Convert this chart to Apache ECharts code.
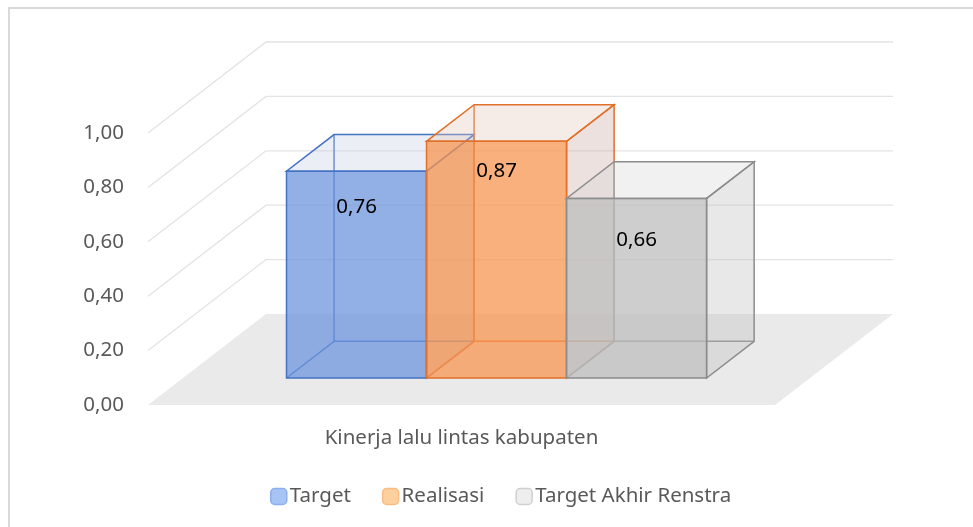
<!DOCTYPE html>
<html>
<head>
<meta charset="utf-8">
<script src="https://cdn.jsdelivr.net/npm/echarts@6/dist/echarts.min.js"></script>
<style>
  html, body { margin: 0; padding: 0; background: #fff; }
  #chart { width: 973px; height: 527px; }
</style>
</head>
<body>
<div id="chart"></div>
<script>
// data
const categories = ['Kinerja lalu lintas kabupaten']
const seriesNames = ['Target', 'Realisasi', 'Target Akhir Renstra']
const target = [0.76]
const realisasi = [0.87]
const renstra = [0.66]
const yTicks = [0, 0.2, 0.4, 0.6, 0.8, 1.0]

// oblique "3d" look: depth offset in px, bar front/back depth as fraction of it
const DX = 118
const DY = -91
const D0 = 0.297
const D1 = 0.70
const GROUP = 0.67
const FONT = 'Noto Sans'

const styles = [
  { edge: '#4472c4', front: 'rgba(110,150,220,0.75)', top: 'rgba(200,205,225,0.35)', side: 'rgba(170,180,210,0.35)',
    icon: '#a7c4f5', iconBorder: '#8db0ea' },
  { edge: '#e0702a', front: 'rgba(247,150,80,0.75)', top: 'rgba(225,200,185,0.35)', side: 'rgba(200,170,160,0.35)',
    icon: '#fdd09e', iconBorder: '#f8bd86' },
  { edge: '#8c8c8c', front: 'rgba(190,190,190,0.75)', top: 'rgba(215,215,215,0.35)', side: 'rgba(190,190,190,0.35)',
    icon: '#eeeeee', iconBorder: '#d0d0d0' }
]

function fmt(v) {
  return v.toFixed(2).replace('.', ',')
}

function wallsItem(params, api) {
  const v = api.value(0)
  const p = api.coord([0, v])
  const band = api.size([1, 0])[0]
  const l = p[0] - band / 2
  const r = p[0] + band / 2
  const y = p[1]
  if (v === 0) {
    return {
      type: 'polygon',
      shape: { points: [[l, y], [r, y], [r + DX, y + DY], [l + DX, y + DY]] },
      style: { fill: '#eaeaea' },
      z2: 0
    }
  }
  return {
    type: 'polyline',
    shape: { points: [[l, y], [l + DX, y + DY], [r + DX, y + DY]] },
    style: { stroke: '#e3e3e3', lineWidth: 1.3, fill: null },
    z2: 1
  }
}

function makeBar(idx, values) {
  const st = styles[idx]
  return {
    name: seriesNames[idx],
    type: 'custom',
    z: 2 + idx,
    itemStyle: { color: st.icon },
    encode: { x: 0, y: 1 },
    data: values.map((v, i) => [i, v]),
    renderItem: function (params, api) {
      const ci = api.value(0)
      const v = api.value(1)
      const base = api.coord([ci, 0])
      const yTop = api.coord([ci, v])[1]
      const band = api.size([1, 0])[0]
      const unit = api.size([0, 1])[1]
      const groupW = band * GROUP
      const barW = groupW / 3
      const x1 = base[0] - groupW / 2 + idx * barW + DX * D0
      const x2 = x1 + barW
      const yb = base[1] + DY * D0
      const yt = yTop + DY * D0
      const bx = DX * (D1 - D0)
      const by = DY * (D1 - D0)
      const line = { stroke: st.edge, lineWidth: 1.5 }
      // label sits a bit lower the shorter the bar is
      const labelY = yt + 22.6 + 0.21 * unit * (1 - v)
      return {
        type: 'group',
        children: [
          { type: 'line', shape: { x1: x1 + bx, y1: yb + by, x2: x1 + bx, y2: yt + by }, style: line },
          { type: 'line', shape: { x1: x1 + bx, y1: yb + by, x2: x2 + bx, y2: yb + by }, style: line },
          { type: 'line', shape: { x1: x1, y1: yb, x2: x1 + bx, y2: yb + by }, style: line },
          {
            type: 'polygon',
            shape: { points: [[x2, yt], [x2, yb], [x2 + bx, yb + by], [x2 + bx, yt + by]] },
            style: { fill: st.side, stroke: st.edge, lineWidth: 1.5 }
          },
          {
            type: 'polygon',
            shape: { points: [[x1, yt], [x2, yt], [x2 + bx, yt + by], [x1 + bx, yt + by]] },
            style: { fill: st.top, stroke: st.edge, lineWidth: 1.5 }
          },
          {
            type: 'rect',
            shape: { x: x1, y: yt, width: barW, height: yb - yt },
            style: { fill: st.front, stroke: st.edge, lineWidth: 1.5 }
          },
          {
            type: 'text',
            style: {
              text: fmt(v), x: (x1 + x2) / 2, y: labelY,
              align: 'center', verticalAlign: 'middle',
              fill: '#000', fontSize: 20.5, fontFamily: FONT
            }
          }
        ]
      }
    }
  }
}

const chart = echarts.init(document.getElementById('chart'))
chart.setOption({
  animation: false,
  backgroundColor: '#fff',
  graphic: [{
    type: 'rect',
    shape: { x: 9, y: 8, width: 1000, height: 1000 },
    style: { fill: null, stroke: '#d9d9d9', lineWidth: 2 },
    silent: true
  }],
  grid: { left: 148, right: 198, top: 133, bottom: 122 },
  xAxis: {
    type: 'category',
    data: categories,
    axisLine: { show: false },
    axisTick: { show: false },
    splitLine: { show: false },
    axisLabel: { margin: 23, color: '#595959', fontSize: 20.5, fontFamily: FONT }
  },
  yAxis: {
    type: 'value',
    min: 0,
    max: 1,
    interval: 0.2,
    axisLine: { show: false },
    axisTick: { show: false },
    splitLine: { show: false },
    axisLabel: { margin: 24, color: '#595959', fontSize: 20.5, fontFamily: FONT, formatter: fmt }
  },
  legend: {
    left: 265,
    top: 481,
    itemWidth: 16,
    itemHeight: 16,
    itemGap: 31,
    icon: 'roundRect',
    textStyle: { color: '#595959', fontSize: 20.5, fontFamily: FONT, padding: [0, 0, 0, -2] },
    data: seriesNames.map((n, i) => ({
      name: n,
      itemStyle: { color: styles[i].icon, borderColor: styles[i].iconBorder, borderWidth: 1.5 }
    }))
  },
  series: [
    {
      type: 'custom',
      name: 'walls',
      z: 1,
      silent: true,
      encode: { y: 0 },
      data: yTicks.map(v => [v]),
      renderItem: wallsItem
    },
    makeBar(0, target),
    makeBar(1, realisasi),
    makeBar(2, renstra)
  ]
})
</script>
</body>
</html>
